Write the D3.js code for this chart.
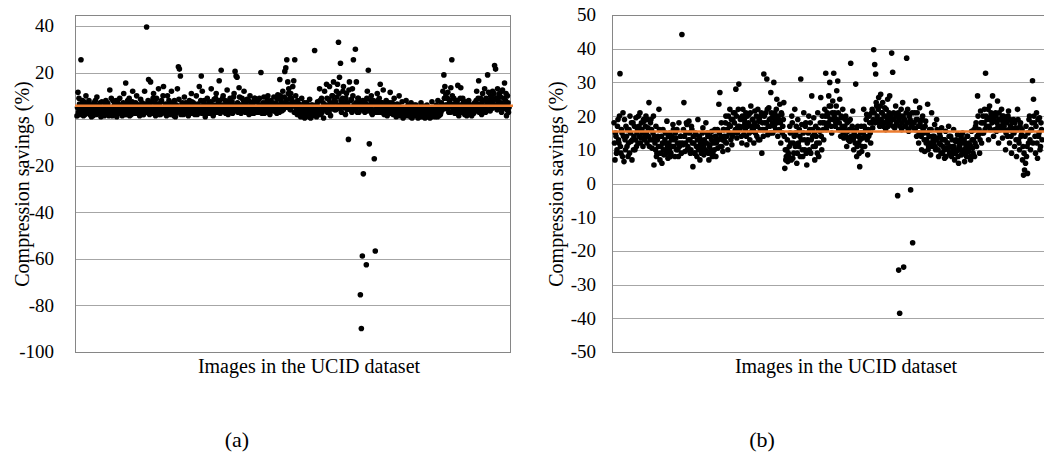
<!DOCTYPE html>
<html>
<head>
<meta charset="utf-8">
<script src="https://cdn.jsdelivr.net/npm/d3@7"></script>
<style>
  body { margin: 0; background: #fff; }
</style>
</head>
<body>
<svg width="1044" height="452"></svg>
<script>
// compression savings per image, panel (a) - first reading pass
var savingsA = [
  1.4, 11.5, 9, 4, 25.5, 6, 3, 7.5, 2, 10,
  5, 3.5, 8, 2, 6, 4.5, 1.5, 7, 3, 5.5,
  9.5, 2.5, 6, 4, 1, 7.5, 3, 5, 2, 8,
  4, 6.5, 1.5, 12.5, 3, 5, 8, 2, 6, 3.5,
  1, 7, 4.5, 9, 2.5, 6, 3, 11, 5, 15.5,
  2, 8, 4, 1.5, 6.5, 3, 12, 5, 2.5, 7,
  10, 4, 6, 1.5, 8.5, 3, 5.5, 2, 12, 6,
  39.6, 4, 17, 2, 16, 7.5, 3, 11, 5, 1.5,
  9, 3.5, 13, 6, 2, 8, 4.5, 14, 3, 6.5,
  1.5, 10, 4, 7, 2.5, 12, 5, 3, 8, 1,
  6, 13, 22.5, 21.5, 18.5, 4, 7, 2, 9.5, 5,
  3, 6.5, 1.5, 8, 4, 11, 2.5, 7, 5, 3.5,
  10, 2, 6, 14, 4, 18.5, 12, 3, 8, 1,
  5.5, 9, 2.5, 7, 4, 13, 6, 1.5, 8.5, 3,
  11, 4.5, 7, 16.5, 2.5, 21, 6, 10, 3.5, 8,
  4, 12.5, 2, 6.5, 9, 3, 7.5, 5, 11, 20.5,
  18.5, 18, 3, 13.5, 6, 2.5, 9, 4.5, 12, 7,
  3, 8.5, 5, 2, 10, 6, 4, 7.5, 2.5, 9,
  5, 3, 8, 6, 4, 20, 2.5, 7, 9.5, 4.5,
  6.5, 3, 10, 5, 2, 8, 4, 6, 9.5, 3.5,
  7, 2.5, 10.5, 5, 17, 8, 3.5, 12, 6, 20.5,
  22, 25.5, 16, 13, 9, 11, 7, 14, 16.5, 25.5,
  10, 4, 8, 2, 6, 1, 9, 3, 5, 0.5,
  2.5, 7, 1.5, 4, 8.5, 0.5, 3, 6, 2, 29.5,
  5, 1, 7.5, 3.5, 13, 2, 9, 4, 0.5, 12,
  6, 15, 3, 8.5, 14, 1.5, 5, 10, 16, 4,
  7.5, 12, 15, 33, 18, 24, 3, 9, 14, 6,
  2, 11, 7, -8.7, 16, 4, 8.5, 13, 25.5, 5,
  30, 16, 3, 9, 6, -75.4, -89.9, -58.8, -23.5, 4,
  7, -62.5, 12, 21, -10.6, 5, 10, 2, 8, -17,
  -56.6, 6, 11, 3, 9, 15, 4.5, 7, 12.5, 2,
  5, 8, 1.5, 6, 3.5, 11.5, 4, 7, 2, 9,
  5, 1, 6.5, 3, 10, 4.5, 2, 7.5, 0.5, 5,
  3, 8, 1.5, 6, 4, 2.5, 7, 0.5, 5, 3,
  1.5, 6, 3.5, 0.5, 4.5, 2, 7, 1, 3, 5.5,
  0.5, 2.5, 6, 1.5, 4, 0.5, 3, 7.5, 2, 5,
  1, 4, 2.5, 8, 1.5, 5.5, 3, 6, 12, 19,
  14, 10.5, 6, 11.5, 3, 8, 13.5, 25.5, 5, 9,
  2.5, 7, 4, 14.5, 1.5, 6, 13.5, 3, 9, 5,
  2, 7.5, 1.5, 4, 8, 3, 6, 1.5, 5, 2.5,
  7, 3.5, 12, 6, 16.5, 4, 9, 2, 11, 5.5,
  13, 3, 7.5, 19, 11.5, 6, 10, 4.5, 12, 8,
  23, 21.5, 5, 13, 7, 11, 9.5, 3, 12.5, 6,
  15.5, 8, 1.5, 10, 3
];

// panel (a) - second pass, the images between the ones above
var savingsA2 = [
  5, 3, 6.5, 2, 4, 8, 1.5, 5, 3.5, 6,
  2.5, 7, 4, 5.5, 1, 3, 6, 4.5, 8, 2,
  4, 6, 3, 7, 2.5, 5, 4, 1.5, 6.5, 3,
  7, 2, 5, 4, 9, 1.5, 4.5, 6, 3, 8,
  4, 2.5, 6, 3.5, 5, 1.5, 7, 4, 2, 6,
  5, 3.5, 9, 4.5, 2, 7.5, 4, 6, 3, 5,
  2.5, 6, 3.5, 5, 4, 7, 2, 4.5, 6.5, 3,
  5.5, 8, 3, 6, 4, 2.5, 9, 4.5, 7, 3,
  5, 6.5, 2, 4, 7.5, 3, 10, 5, 2.5, 4,
  6, 3.5, 8, 2, 5, 4, 7, 1.5, 4.5, 6,
  3, 5, 8.5, 4, 2, 6.5, 3.5, 5, 2.5, 7,
  5, 2, 4.5, 6, 3, 7.5, 4, 5.5, 2, 6,
  4, 6.5, 3, 5, 8, 2.5, 5.5, 7, 4, 3,
  6, 3.5, 5, 2.5, 7.5, 4, 3, 6, 5, 9,
  3, 6, 4, 8, 5.5, 3.5, 9, 4, 6, 2.5,
  7, 5, 3.5, 8, 4, 6, 2.5, 9.5, 4.5, 6,
  3.5, 7, 5, 9.5, 3, 6, 4, 8, 5.5, 3,
  6, 4, 8, 3.5, 5, 7, 2.5, 5.5, 9, 4,
  7.5, 4.5, 3, 9, 5.5, 3.5, 6, 4, 2.5, 7,
  4, 8, 3, 6, 4.5, 5, 7, 3.5, 5, 6.5,
  4, 9, 6, 3, 10, 5.5, 7, 4, 9.5, 6,
  8, 5, 11, 6.5, 4, 9, 5.5, 7.5, 3, 6,
  5, 2, 4, 6.5, 1.5, 3, 5, 2.5, 7, 1.5,
  4, 3, 5.5, 1, 3.5, 6, 2, 4.5, 1.5, 5,
  3, 6.5, 2, 4, 8, 5, 3, 7, 4.5, 6,
  4, 9, 5.5, 3, 7, 4.5, 10, 6, 8, 5,
  4, 9.5, 6, 11, 4.5, 8, 6.5, 12, 5, 7,
  9, 4, 6, 12.5, 5, 8, 3, 10, 6, 4,
  7, 5, 9, 3, 7.5, 5, 4, 8, 6, 3,
  5, 9, 3.5, 6, 4, 8, 2.5, 6.5, 4, 7,
  3, 5.5, 8, 4, 6, 3, 7, 5, 2.5, 6,
  4, 6.5, 3, 5, 7, 2.5, 5.5, 3, 6, 4,
  2, 4.5, 3, 6, 1.5, 3.5, 5, 2.5, 4, 1.5,
  5, 2, 4, 3, 6, 1, 3.5, 4.5, 2, 6,
  3.5, 2, 5, 3, 1, 4, 2.5, 5, 1.5, 3,
  4, 1, 3, 5, 2, 3.5, 1, 4.5, 2.5, 3,
  3, 6, 1, 4, 5, 2, 7, 4, 5, 9,
  6, 4.5, 9, 5, 7, 3, 6, 10, 4, 6.5,
  5, 3, 8, 6, 4, 9, 5.5, 3, 7, 4,
  5, 3, 6, 2.5, 4.5, 6, 2, 4, 3, 6.5,
  4, 8, 5, 9, 3, 6.5, 5, 7.5, 4, 8,
  5.5, 9, 4, 6.5, 8, 3.5, 7, 9, 5, 11,
  6, 9, 4, 8, 10, 5, 7, 12, 4.5, 9,
  6, 11, 4, 7, 5
];

// compression savings per image, panel (b) - first reading pass
var savingsB = [
  18, 7, 14, 10, 19, 12, 32.6, 9, 15, 21,
  6.5, 13, 17, 11, 8, 16, 20, 12.5, 7, 18,
  14, 10, 19.5, 15, 12, 17, 21, 13.5, 16, 11,
  18.5, 14, 20, 12, 16.5, 24, 13, 19, 10.5, 15,
  5.5, 12, 17, 9, 14, 22, 7, 11, 6, 16,
  8.5, 13, 10, 18.5, 7.5, 12, 15, 9, 14, 17.5,
  11, 8, 13.5, 16, 10, 18, 12, 14, 44.2, 11.5,
  24, 9.5, 15, 17.5, 11, 18.5, 13, 10, 16, 5,
  12, 9, 14.5, 8, 19, 11, 7, 13, 10, 16.5,
  8.5, 12, 18, 9.5, 14, 7, 11.5, 10, 15.5, 9,
  12.5, 16, 8, 13, 10.5, 23.5, 27, 14, 11, 9.5,
  16, 12.5, 20, 14, 10, 17.5, 22, 13, 11.5, 19,
  15, 21, 28, 13.5, 17, 29.5, 16, 19.5, 12, 22,
  14.5, 18, 21, 11.5, 17, 20.5, 13, 23, 15.5, 19,
  12, 21.5, 17, 14, 22, 18.5, 13, 20, 9, 16,
  32.5, 18, 21, 31, 14.5, 22.5, 17, 27, 19.5, 15,
  30, 21, 16, 25, 14, 19, 23.5, 12, 20.5, 17,
  24, 4.5, 7, 10, 6.5, 8, 17, 12, 20, 7.5,
  9, 22, 15, 6, 19, 11, 14, 31, 17.5, 8,
  21, 10, 18, 5.5, 13, 20, 16, 9, 26, 14,
  19.5, 7, 17, 12, 21, 8, 15.5, 25.5, 10, 18,
  13, 22, 32.7, 17, 20, 26, 30, 23, 15, 24.5,
  32.7, 21, 18, 27.5, 30.4, 16, 25, 14, 19.5, 22,
  13.5, 17, 20, 11, 15.5, 18.5, 12.5, 35.7, 16, 21.5,
  10, 14, 29.5, 8, 17, 12, 5, 15, 9.5, 13.5,
  22, 11, 16, 20.5, 8.5, 14, 18, 12, 21, 16.5,
  39.7, 35.3, 32.5, 23, 19, 25.5, 17, 26.5, 21, 24,
  18, 22.5, 16, 20, 25, 17.5, 26, 19, 38.7, 33,
  21, 16.5, 23, 18, -3.6, -25.7, -38.5, 20, 16, 24,
  -24.8, 19, 17, 37.2, 22, 15.5, 20.5, -1.9, 18, -17.6,
  16.5, 21, 24.5, 14, 19, 12, 22.5, 17, 10, 20,
  15, 9.5, 18.5, 13, 23.5, 11, 16, 8.5, 21, 14,
  12, 17.5, 10, 19, 13.5, 8, 15, 11.5, 16.5, 9,
  13, 7.5, 15.5, 10.5, 12, 17, 9, 14, 8, 11,
  16, 7, 12.5, 9.5, 14.5, 6, 11, 13, 8.5, 15,
  10, 6.5, 12, 8, 14, 9.5, 11.5, 7, 15.5, 10.5,
  13, 8, 17, 11, 26, 14.5, 9, 21.5, 12, 18,
  15, 22, 32.7, 17, 19.5, 13, 23, 16, 20.5, 26,
  14, 18.5, 21, 15.5, 24.5, 12, 19, 17, 22, 13.5,
  20, 16, 10, 18.5, 14, 21.5, 12, 17, 9, 15.5,
  19, 11, 16.5, 8, 22, 13, 10, 18, 14.5, 7,
  2.5, 4, 6, 8, 3, 12, 20, 10, 16, 30.5,
  25, 18, 9, 21, 7.5, 14, 19.5, 11, 16
];

// panel (b) - second pass
var savingsB2 = [
  12, 15, 9, 17, 13, 20, 11, 16, 8, 14,
  19, 10, 14, 16, 12, 9, 15, 18, 13, 10,
  17, 13, 11, 16, 20, 14, 12, 18, 15, 19,
  13, 17, 15, 19, 14, 11, 18, 16, 13, 20,
  14, 10, 8, 13, 11, 16, 9, 14, 12, 10,
  12, 15, 9, 11, 14, 10, 8, 13, 11, 16,
  13, 15, 10, 12, 8, 11, 14, 9, 12, 16,
  14, 12, 18, 10, 13, 15, 9, 17, 12, 14,
  9, 15, 11, 13, 10, 14, 12, 9, 15, 11,
  13, 10, 12, 15, 9, 11, 14, 13, 8, 12,
  10, 14, 12, 16, 13, 15, 11, 18, 13, 16,
  14, 18, 12, 16, 20, 15, 17, 19, 14, 21,
  18, 16, 20, 15, 22, 17, 19, 14, 20, 17,
  19, 16, 14, 20, 18, 15, 21, 17, 19, 16,
  18, 15, 20, 17, 13, 19, 16, 21, 18, 14,
  20, 16, 18, 22, 17, 19, 15, 21, 18, 20,
  17, 19, 22, 18, 20, 16, 18, 21, 15, 19,
  14, 10, 8, 13, 9, 11, 15, 7, 18, 12,
  14, 11, 17, 9, 12, 16, 8, 13, 10, 15,
  13, 17, 9, 12, 15, 10, 18, 13, 16, 11,
  15, 11, 14, 9, 16, 12, 18, 14, 20, 16,
  18, 20, 16, 21, 18, 23, 19, 17, 21, 19,
  20, 17, 23, 19, 21, 18, 16, 20, 17, 15,
  16, 19, 14, 18, 13, 16, 19, 14, 17, 13,
  15, 12, 16, 11, 14, 9, 13, 17, 11, 15,
  17, 14, 19, 13, 16, 20, 15, 18, 22, 19,
  21, 18, 24, 20, 22, 18, 23, 19, 21, 17,
  20, 18, 22, 19, 17, 21, 18, 20, 19, 17,
  19, 17, 20, 18, 21, 19, 17, 22, 18, 20,
  19, 17, 21, 18, 16, 20, 19, 17, 21, 18,
  18, 16, 19, 21, 17, 15, 18, 14, 19, 16,
  13, 17, 12, 15, 10, 14, 12, 16, 11, 13,
  14, 11, 13, 16, 10, 12, 14, 9, 13, 11,
  10, 13, 8, 12, 10, 14, 11, 9, 13, 10,
  11, 9, 13, 10, 8, 12, 10, 14, 9, 12,
  13, 9, 11, 14, 10, 12, 8, 11, 13, 9,
  16, 12, 18, 14, 20, 16, 13, 18, 15, 20,
  18, 16, 20, 19, 22, 17, 19, 21, 18, 20,
  19, 16, 20, 18, 17, 21, 16, 19, 20, 18,
  17, 19, 15, 18, 20, 16, 19, 14, 18, 16,
  15, 18, 13, 16, 19, 12, 17, 14, 16, 11,
  9, 14, 17, 11, 15, 19, 13, 16, 18, 12,
  20, 14, 17, 12, 19, 15, 10, 18, 13
];

var meanA = 5.8, meanB = 15.4;
var ticksA = [40, 20, 0, -20, -40, -60, -80, -100];
var ticksB = [50, 40, 30, 20, 10, 0, -10, -20, -30, -40, -50];
var yTitle = "Compression savings (%)";
var xTitle = "Images in the UCID dataset";

var font = "Liberation Serif, Times New Roman, serif";
var svg = d3.select("svg");

// interleave the two reading passes into one series of images
function series(a, b) {
  var out = [];
  a.forEach(function(v, i) {
    out.push(v);
    if (b[i] !== undefined) out.push(b[i]);
  });
  return out;
}

function drawPanel(p) {
  var g = svg.append("g");

  var x = d3.scaleLinear()
      .domain([0, p.data.length - 1])
      .range([p.left + 2, p.dataRight]);
  var y = d3.scaleLinear()
      .domain(p.domain)
      .range(p.yRange);

  // gridlines
  g.selectAll(".grid")
    .data(p.ticks)
    .enter().append("line")
      .attr("x1", p.left).attr("x2", p.right)
      .attr("y1", function(d){ return Math.round(y(d)) + 0.5 })
      .attr("y2", function(d){ return Math.round(y(d)) + 0.5 })
      .attr("stroke", "#a6a6a6")
      .attr("stroke-width", 1)

  // plot frame
  g.append("rect")
    .attr("x", p.left + 0.5).attr("y", p.top + 0.5)
    .attr("width", p.right - p.left).attr("height", p.bottom - p.top)
    .attr("fill", "none")
    .attr("stroke", "#868686")

  // tick labels
  g.selectAll(".tick")
    .data(p.ticks)
    .enter().append("text")
      .attr("x", p.labelX)
      .attr("y", function(d){ return y(d) })
      .attr("dy", "0.34em")
      .attr("text-anchor", "end")
      .attr("font-family", font)
      .attr("font-size", 19)
      .text(function(d){ return d })

  // dots
  g.selectAll(".dot")
    .data(p.data)
    .enter().append("circle")
      .attr("cx", function(d, i){ return x(i) })
      .attr("cy", function(d){ return y(d) })
      .attr("r", 2.8)
      .attr("fill", "#000")

  // mean line
  g.append("line")
    .attr("x1", p.left).attr("x2", p.meanRight)
    .attr("y1", y(p.mean)).attr("y2", y(p.mean))
    .attr("stroke", "#ed7d31")
    .attr("stroke-width", 2.5)

  g.append("text")
    .attr("transform", "translate(" + p.yTitleX + "," + p.yTitleY + ") rotate(-90)")
    .attr("text-anchor", "middle")
    .attr("font-family", font)
    .attr("font-size", 20)
    .text(yTitle)

  g.append("text")
    .attr("x", p.xTitleX).attr("y", 373)
    .attr("text-anchor", "middle")
    .attr("font-family", font)
    .attr("font-size", 20)
    .text(xTitle)

  g.append("text")
    .attr("x", p.tagX).attr("y", 447)
    .attr("text-anchor", "middle")
    .attr("font-family", font)
    .attr("font-size", 22)
    .text(p.tag)
}

drawPanel({
  data: series(savingsA, savingsA2), mean: meanA, ticks: ticksA, domain: [-100, 40], yRange: [352, 26],
  left: 75, right: 510, top: 15, bottom: 352, dataRight: 509, meanRight: 513,
  labelX: 54, yTitleX: 29, yTitleY: 184, xTitleX: 309, tagX: 237, tag: "(a)"
});

drawPanel({
  data: series(savingsB, savingsB2), mean: meanB, ticks: ticksB, domain: [-50, 50], yRange: [352, 15],
  left: 612, right: 1090, top: 15, bottom: 352, dataRight: 1042, meanRight: 1090,
  labelX: 596, yTitleX: 563, yTitleY: 184, xTitleX: 846, tagX: 762, tag: "(b)"
});
</script>
</body>
</html>
